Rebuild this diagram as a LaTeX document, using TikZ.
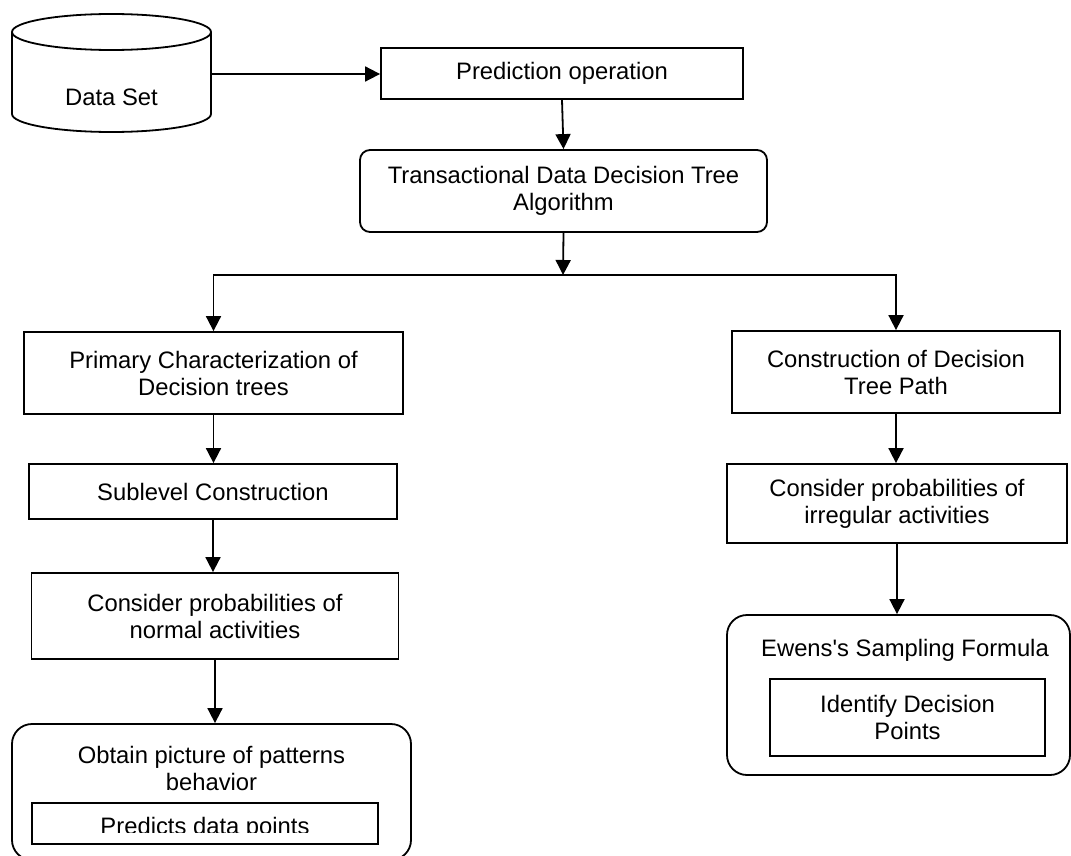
\documentclass[tikz,border=0pt]{standalone}
\usepackage{fontspec}
\setmainfont{Liberation Sans}[Ligatures=TeXOff]
\usetikzlibrary{arrows.meta,positioning}
\tikzset{
  ftri/.tip={Triangle[length=15pt,width=15pt]},
  box/.style={draw, line width=1.8pt, align=center, inner sep=0pt},
  rbox/.style={box, rounded corners=20pt},
  arr/.style={line width=1.8pt, -ftri},
}
\begin{document}
\begin{tikzpicture}[x=1pt,y=-1pt, font=\fontsize{23.8pt}{27pt}\selectfont]
\useasboundingbox (0,0) rectangle (1071,856);
% data set drum
\draw[line width=1.8pt] (111.5,32) ellipse [x radius=99.5, y radius=18];
\draw[line width=1.8pt] (12,32) -- (12,114) arc[start angle=180, end angle=0, x radius=99.5, y radius=18] -- (211,32);
\node (data) at (111.5,97) {Data Set};
\coordinate (dataout) at (211,74);
% top row
\node[box, minimum width=362pt, minimum height=51pt] (pred) at (562,73.5) {Prediction operation};
\node[box, rounded corners=10pt, minimum width=407pt, minimum height=82pt] (trans) at (563.5,191)
  {Transactional Data Decision Tree\\Algorithm};
\coordinate (split) at (563,275);
% left branch
\node[box, minimum width=379pt, minimum height=82pt] (prim) at (213.5,373)
  {Primary Characterization of\\Decision trees};
\node[box, minimum width=368pt, minimum height=55pt] (sub) at (213,491.5) {Sublevel Construction};
\node[box, minimum width=367pt, minimum height=86pt] (norm) at (215,616)
  {Consider probabilities of\\normal activities};
\node[rbox, minimum width=399pt, minimum height=136pt] (obtain) at (211.5,792) {};
\node[anchor=base, align=center] (obtaintxt) at (211.5,790.5) {Obtain picture of patterns\\behavior};
\node[box, minimum width=346pt, minimum height=41pt] (predbox) at (205,823.5) {};
\begin{scope}
  \clip (32,803) rectangle (378,832);
  \node[anchor=base] (predicts) at (205,834) {Predicts data points};
\end{scope}
% right branch
\node[box, minimum width=328pt, minimum height=82pt] (constr) at (896,372)
  {Construction of Decision\\Tree Path};
\node[box, minimum width=340pt, minimum height=79pt] (irreg) at (897,503.5)
  {Consider probabilities of\\irregular activities};
\node[rbox, minimum width=343pt, minimum height=160pt] (ewens) at (898.5,695) {};
\node[anchor=base] (ewenstxt) at (905,656.5) {Ewens's Sampling Formula};
\node[box, minimum width=275pt, minimum height=77pt] (ident) at (907.5,717.5)
  {Identify Decision\\Points};
% connectors
\draw[arr] (dataout) -- (dataout -| pred.west);
\draw[arr] (pred.south) -- (trans.north);
\draw[arr] (trans.south) -- (split);
\draw[line width=1.8pt, ftri-ftri] (prim.north) |- (split) -| (constr.north);
\draw[arr] (prim.south) -- (prim.south |- sub.north);
\draw[arr] (sub.south) -- (sub.south |- norm.north);
\draw[arr] (norm.south) -- (norm.south |- obtain.north);
\draw[arr] (constr.south) -- (constr.south |- irreg.north);
\draw[arr] (irreg.south) -- (irreg.south |- ewens.north);
\end{tikzpicture}
\end{document}
